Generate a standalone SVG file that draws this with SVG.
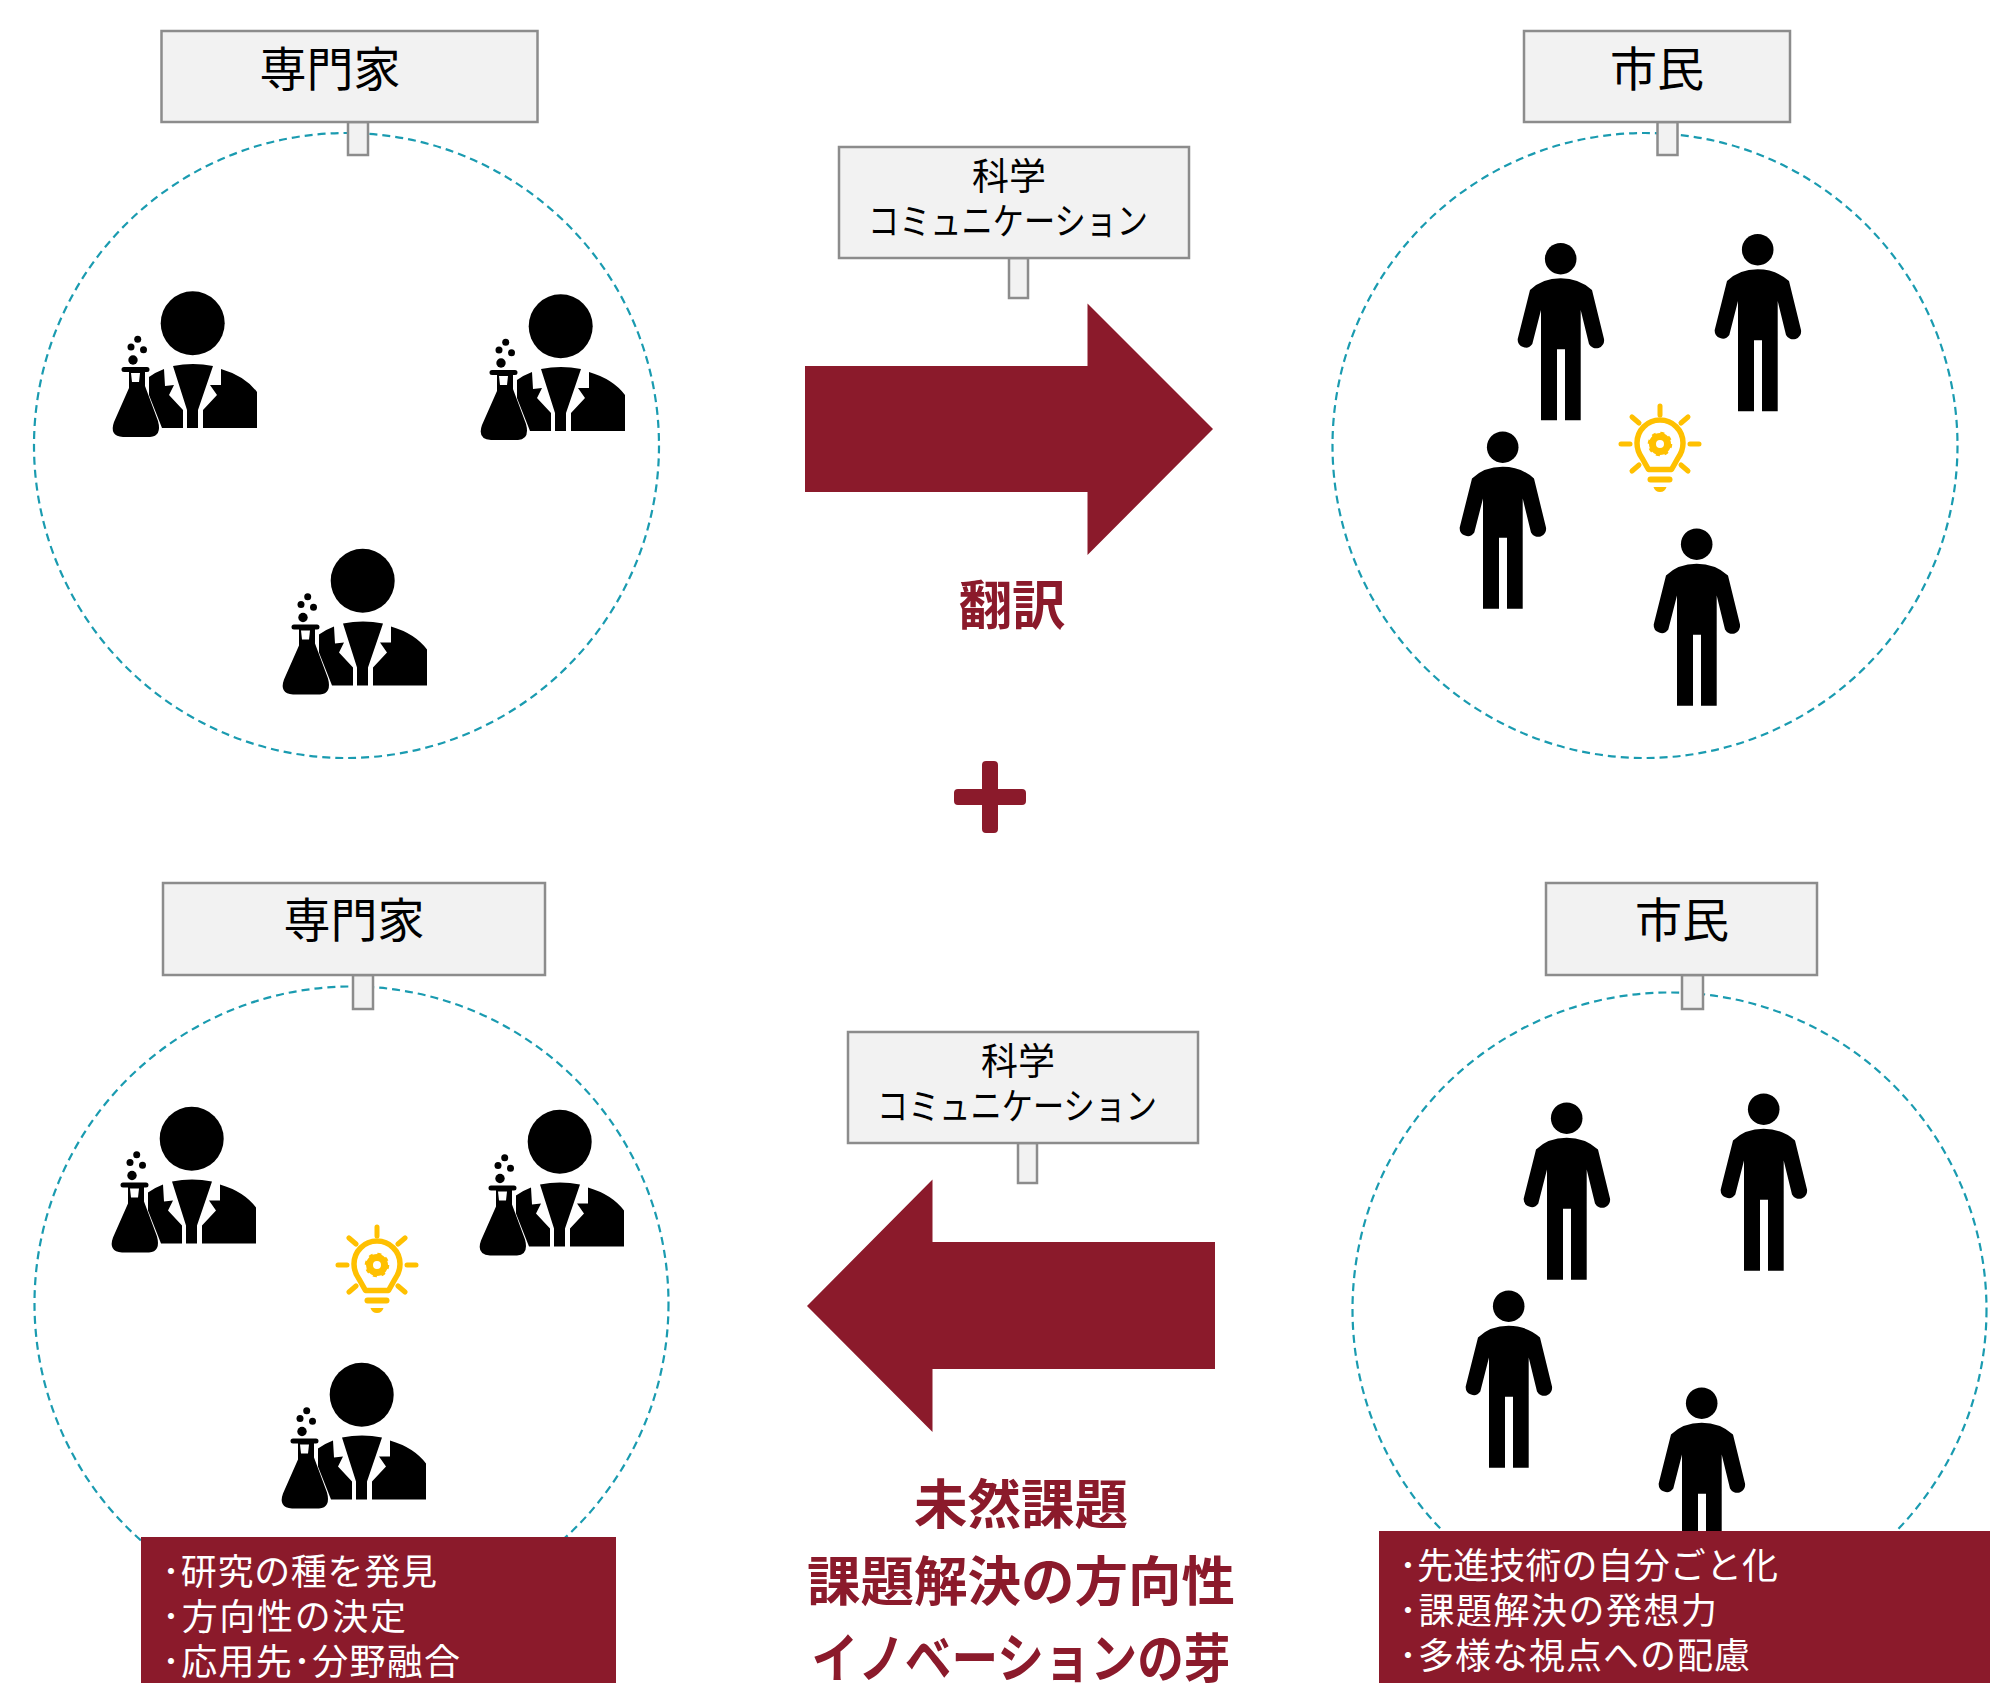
<svg xmlns="http://www.w3.org/2000/svg" width="2011" height="1683" viewBox="0 0 2011 1683">
<style>
text{font-family:"Noto Sans CJK JP","Noto Sans",sans-serif;text-anchor:middle;fill:#000}
.box{fill:#f2f2f2;stroke:#8c8c8c;stroke-width:2.5}
.ring{fill:none;stroke:#1a9bb0;stroke-width:2.2;stroke-dasharray:8 5}
.red{fill:#8b1a2b}
.t1{font-size:47px}
.t2{font-size:37px}
.em{font-weight:700;font-size:53.500px;fill:#8b1a2b}
.w{font-size:36px;fill:#fff;text-anchor:start}
</style>
<defs>
<symbol id="sci" overflow="visible">
<circle cx="102.7" cy="53.3" r="32"/>
<circle cx="47.7" cy="69.3" r="3.5"/><circle cx="41" cy="77" r="3.5"/><circle cx="53.5" cy="79.7" r="3.5"/><circle cx="43" cy="90" r="4.7"/>
<path fill-rule="evenodd" d="M34 97H57q2.500 0 2.500 2.500T57 102H55V116L68 151Q72 166 60 167H33Q19 166 24 152L39 118V102H34q-2.500 0-2.500-2.500T34 97ZM41 103L42 112H49L50 103Z"/>
<path d="M59 107Q66 102 74 99L75 116L84 115L79 125L93 140V158H72L59 125Z"/>
<path d="M83 96Q103 92 123 96L108 140V158H97V140Z"/>
<path d="M131 99Q155 106 167 122V158H113V140L127 125L120 115H131Z"/>
</symbol>
<symbol id="per" overflow="visible">
<circle cx="120.700" cy="38.700" r="15.800"/>
<path d="M120.700 58.300Q102 58.300 90 70L77.700 119A8 8 0 0 0 92.300 124L101 90V200.300H117V129.300H125V200.300H140.700V90L149 124A8 8 0 0 0 164 119L152 70Q139 58.300 120.700 58.300Z"/>
</symbol>
<symbol id="bulb" overflow="visible">
<g fill="none" stroke="#ffc000" stroke-width="5" stroke-linecap="round" stroke-linejoin="round">
<path d="M0-38V-29M-28-27L-21-21M28-27L21-21M-39 0H-30M39 0H30M-28 27L-21 21M28 27L21 21"/>
<path stroke-width="5.500" d="M-11.500 25.500L-18 14Q-23 7-23 -1A23 23 0 0 1 23 -1Q23 7 18 14L11.500 25.500Z"/>
<path d="M-9.500 35.500H9.500" stroke-width="6"/>
<path d="M-6.500 43H6.500Q5 48 0 48T-6.500 43Z" fill="#ffc000" stroke="none"/>
<circle r="7.500" stroke-width="7"/>
<circle r="10.500" stroke-width="3.500" stroke-dasharray="3.800 4.450" stroke-linecap="butt"/>
</g>
</symbol>
</defs>

<g id="connectors">
<circle class="ring" cx="346.500" cy="445.500" r="312.500"/>
<circle class="ring" cx="1645" cy="445.500" r="312.500"/>
<circle class="ring" cx="351.500" cy="1303.500" r="317"/>
<circle class="ring" cx="1669.500" cy="1309.500" r="317"/>
</g>

<g id="top-experts">
<use href="#sci" x="90" y="270"/>
<use href="#sci" x="458" y="273"/>
<use href="#sci" x="260" y="527.500"/>
</g>
<g id="top-citizens">
<use href="#per" x="1440" y="220"/>
<use href="#per" x="1637" y="211"/>
<use href="#per" x="1382" y="408.500"/>
<use href="#per" x="1576" y="505.500"/>
<use href="#bulb" x="1660" y="444"/>
</g>
<g id="bottom-experts">
<use href="#sci" x="89" y="1085.500"/>
<use href="#sci" x="457" y="1088.500"/>
<use href="#sci" x="259" y="1341.500"/>
<use href="#bulb" x="377" y="1265"/>
</g>
<g id="bottom-citizens">
<use href="#per" x="1446" y="1079.500"/>
<use href="#per" x="1643" y="1070.500"/>
<use href="#per" x="1388" y="1267.500"/>
<use href="#per" x="1581" y="1364.500"/>
</g>

<g id="label-expert-top"><rect class="box" x="348" y="122" width="20" height="33"/><rect class="box" x="161.500" y="31" width="376" height="91"/><text class="t1" x="330" y="85.500">専門家</text></g>
<g id="label-citizen-top"><rect class="box" x="1657.500" y="122" width="20" height="33"/><rect class="box" x="1524" y="31" width="266" height="91"/><text class="t1" x="1657" y="85.500">市民</text></g>
<g id="label-expert-bottom"><rect class="box" x="353" y="975" width="20" height="34"/><rect class="box" x="163" y="883" width="382" height="92"/><text class="t1" x="354" y="936.500">専門家</text></g>
<g id="label-citizen-bottom"><rect class="box" x="1682" y="975" width="21" height="34"/><rect class="box" x="1546" y="883" width="271" height="92"/><text class="t1" x="1682" y="936.500">市民</text></g>

<g id="sc-top"><rect class="box" x="1009" y="258" width="19" height="40"/><rect class="box" x="839" y="147" width="350" height="111"/>
<text class="t2" x="1009" y="189.500">科学</text><text class="t2" x="1008" y="235" textLength="280" lengthAdjust="spacingAndGlyphs">コミュニケーション</text></g>
<g id="sc-bottom"><rect class="box" x="1018" y="1143" width="19" height="40"/><rect class="box" x="848" y="1032" width="350" height="111"/>
<text class="t2" x="1018" y="1074.500">科学</text><text class="t2" x="1017" y="1120" textLength="280" lengthAdjust="spacingAndGlyphs">コミュニケーション</text></g>

<g id="arrow-right"><path class="red" d="M805 366H1087.500V303.500L1213 429L1087.500 555V492H805Z"/></g>
<g id="arrow-left"><path class="red" d="M1215 1242H932.500V1179.500L807 1306L932.500 1432V1369H1215Z"/></g>
<g id="plus"><path fill="#8b1a2b" d="M982 765q0-4 4-4h8q4 0 4 4v24h24q4 0 4 4v8q0 4-4 4h-24v24q0 4-4 4h-8q-4 0-4-4v-24h-24q-4 0-4-4v-8q0-4 4-4h24Z"/></g>

<g id="text-translate"><text class="em" x="1012" y="625">翻訳</text></g>
<g id="text-center"><text class="em" x="1021" y="1524">未然課題</text><text class="em" x="1021" y="1601">課題解決の方向性</text><text class="em" x="1021" y="1678" textLength="419" lengthAdjust="spacingAndGlyphs">イノベーションの芽</text></g>

<g id="box-experts"><rect class="red" x="141" y="1537" width="475" height="146"/>
<text class="w" x="162" y="1585" textLength="275">･研究の種を発見</text>
<text class="w" x="162" y="1630" textLength="244">･方向性の決定</text>
<text class="w" x="162" y="1675" textLength="298">･応用先･分野融合</text></g>
<g id="box-citizens"><rect class="red" x="1379" y="1531" width="611" height="152"/>
<text class="w" x="1399" y="1579" textLength="379">･先進技術の自分ごと化</text>
<text class="w" x="1399" y="1624" textLength="318">･課題解決の発想力</text>
<text class="w" x="1399" y="1669" textLength="351">･多様な視点への配慮</text></g>
</svg>
